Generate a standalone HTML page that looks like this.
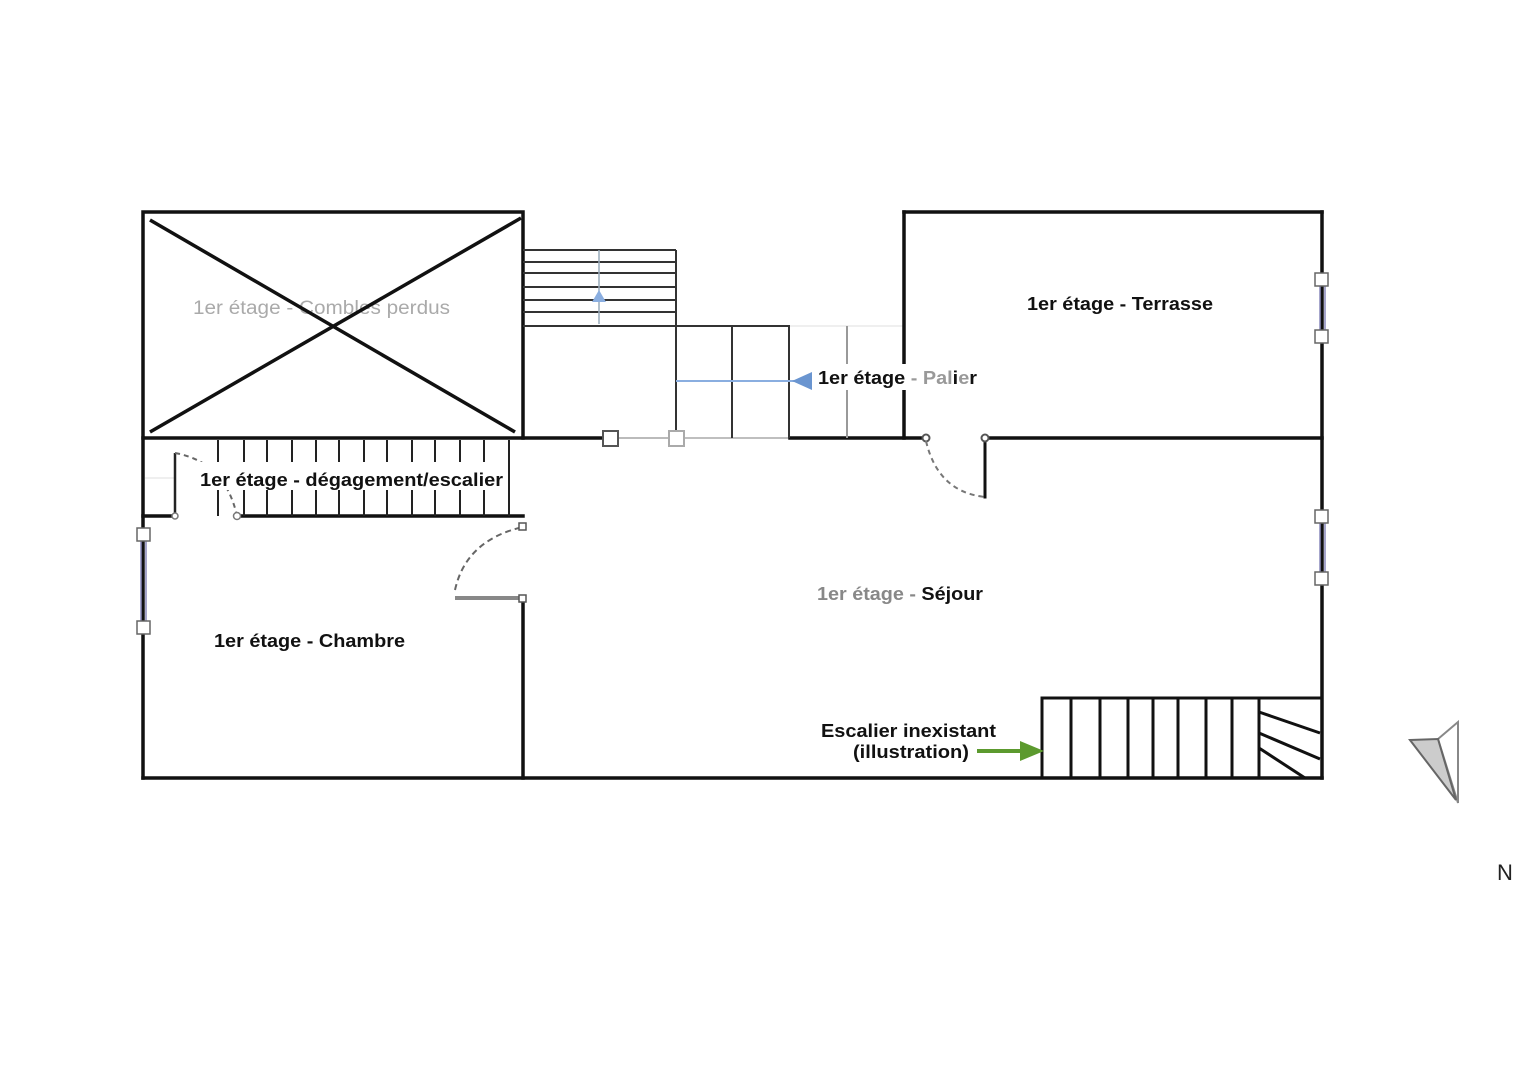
<!DOCTYPE html>
<html><head><meta charset="utf-8"><style>
html,body{margin:0;padding:0;background:#fff;}
svg{display:block}
text{font-family:"Liberation Sans",Arial,sans-serif;}
</style></head><body>
<svg width="1529" height="1080" viewBox="0 0 1529 1080" xmlns="http://www.w3.org/2000/svg">
<rect width="1529" height="1080" fill="#fff"/>
<g stroke="#eaeaea" stroke-width="1.5" fill="none">
<line x1="145" y1="478" x2="175" y2="478"/>
<line x1="676" y1="326" x2="904" y2="326"/>
<line x1="612" y1="438" x2="676" y2="438" stroke="#bbb" stroke-width="2"/>
<line x1="676" y1="438" x2="790" y2="438" stroke="#aaa"/>
</g>
<text x="193" y="314" font-size="19" fill="#aaa" textLength="257" lengthAdjust="spacingAndGlyphs">1er étage - Combles perdus</text>
<g stroke="#111" stroke-width="3.5" fill="none" stroke-linecap="square">
<rect x="143" y="212" width="380" height="226"/>
<line x1="143" y1="438" x2="143" y2="778"/>
<line x1="143" y1="778" x2="1322" y2="778"/>
<line x1="1322" y1="212" x2="1322" y2="778"/>
<line x1="904" y1="212" x2="1322" y2="212"/>
<line x1="904" y1="212" x2="904" y2="438"/>
<line x1="523" y1="438" x2="612" y2="438"/>
<line x1="790" y1="438" x2="926" y2="438"/>
<line x1="985" y1="438" x2="1322" y2="438"/>
<line x1="143" y1="516" x2="175" y2="516"/>
<line x1="237" y1="516" x2="523" y2="516"/>
<line x1="523" y1="598" x2="523" y2="778"/>
<line x1="985" y1="438" x2="985" y2="497" stroke-width="3"/>
</g>
<g stroke="#111" stroke-width="3.5">
<line x1="150" y1="220" x2="515" y2="432"/>
<line x1="150" y1="432" x2="521" y2="218"/>
</g>
<g stroke="#222" stroke-width="2">
<line x1="218" y1="440" x2="218" y2="516"/><line x1="244" y1="440" x2="244" y2="516"/>
<line x1="267" y1="440" x2="267" y2="516"/><line x1="292" y1="440" x2="292" y2="516"/>
<line x1="316" y1="440" x2="316" y2="516"/><line x1="339" y1="440" x2="339" y2="516"/>
<line x1="364" y1="440" x2="364" y2="516"/><line x1="387" y1="440" x2="387" y2="516"/>
<line x1="412" y1="440" x2="412" y2="516"/><line x1="435" y1="440" x2="435" y2="516"/>
<line x1="460" y1="440" x2="460" y2="516"/><line x1="484" y1="440" x2="484" y2="516"/>
<line x1="509" y1="440" x2="509" y2="516"/>
<line x1="175" y1="453" x2="175" y2="516" stroke-width="2.5"/>
</g>
<path d="M175 453 Q225 462 237 516" stroke="#666" stroke-width="2" stroke-dasharray="5 4" fill="none"/>
<circle cx="175" cy="516" r="3" fill="#fff" stroke="#777" stroke-width="1.5"/>
<circle cx="237" cy="516" r="3.5" fill="#fff" stroke="#777" stroke-width="1.5"/>
<g stroke="#333" stroke-width="2">
<line x1="523" y1="250" x2="676" y2="250"/><line x1="523" y1="262" x2="676" y2="262"/>
<line x1="523" y1="273" x2="676" y2="273"/><line x1="523" y1="287" x2="676" y2="287"/>
<line x1="523" y1="300" x2="676" y2="300"/><line x1="523" y1="312" x2="676" y2="312"/>
<line x1="523" y1="326" x2="790" y2="326"/>
<line x1="676" y1="250" x2="676" y2="438"/>
<line x1="732" y1="326" x2="732" y2="438"/>
<line x1="789" y1="326" x2="789" y2="438"/>
<line x1="847" y1="326" x2="847" y2="438" stroke="#999"/>
</g>
<line x1="599" y1="250" x2="599" y2="324" stroke="#9ab" stroke-width="1.5"/>
<polygon points="592,302 606,302 599,290" fill="#8aaee0"/>
<line x1="676" y1="381" x2="800" y2="381" stroke="#8aaee0" stroke-width="2"/>
<polygon points="792,381 812,372 812,390" fill="#6a95d0"/>
<rect x="603" y="431" width="15" height="15" fill="#fff" stroke="#555" stroke-width="2"/>
<rect x="669" y="431" width="15" height="15" fill="#fff" stroke="#aaa" stroke-width="2"/>
<circle cx="926" cy="438" r="3.5" fill="#fff" stroke="#555" stroke-width="2"/>
<circle cx="985" cy="438" r="3.5" fill="#fff" stroke="#555" stroke-width="2"/>
<path d="M926 441 Q938 492 985 497" stroke="#777" stroke-width="2" stroke-dasharray="5 4" fill="none"/>
<line x1="455" y1="598" x2="523" y2="598" stroke="#888" stroke-width="4"/>
<path d="M455 590 Q466 540 523 527" stroke="#666" stroke-width="2" stroke-dasharray="6 4" fill="none"/>
<rect x="519" y="523" width="7" height="7" fill="#fff" stroke="#555" stroke-width="1.5"/>
<rect x="519" y="595" width="7" height="7" fill="#fff" stroke="#555" stroke-width="1.5"/>
<g stroke="#8888bb" stroke-width="1.5" fill="none">
<line x1="141" y1="535" x2="141" y2="628"/><line x1="146" y1="535" x2="146" y2="628"/>
<line x1="1320" y1="280" x2="1320" y2="337"/><line x1="1325" y1="280" x2="1325" y2="337"/>
<line x1="1320" y1="517" x2="1320" y2="579"/><line x1="1325" y1="517" x2="1325" y2="579"/>
</g>
<g fill="#fff" stroke="#666" stroke-width="1.5">
<rect x="137" y="528" width="13" height="13"/><rect x="137" y="621" width="13" height="13"/>
<rect x="1315" y="273" width="13" height="13"/><rect x="1315" y="330" width="13" height="13"/>
<rect x="1315" y="510" width="13" height="13"/><rect x="1315" y="572" width="13" height="13"/>
</g>
<g stroke="#111" stroke-width="3" fill="none">
<polyline points="1042,778 1042,698 1322,698"/>
<line x1="1071" y1="698" x2="1071" y2="778"/><line x1="1100" y1="698" x2="1100" y2="778"/>
<line x1="1128" y1="698" x2="1128" y2="778"/><line x1="1153" y1="698" x2="1153" y2="778"/>
<line x1="1178" y1="698" x2="1178" y2="778"/><line x1="1206" y1="698" x2="1206" y2="778"/>
<line x1="1232" y1="698" x2="1232" y2="778"/><line x1="1259" y1="698" x2="1259" y2="778"/>
<line x1="1259" y1="712" x2="1320" y2="733"/><line x1="1259" y1="733" x2="1320" y2="759"/>
<line x1="1259" y1="748" x2="1305" y2="778"/>
</g>
<line x1="977" y1="751" x2="1025" y2="751" stroke="#5c9a2e" stroke-width="4"/>
<polygon points="1020,741 1044,751 1020,761" fill="#5c9a2e"/>
<polygon points="1438,739 1458,722 1458,803" fill="#fff" stroke="#888" stroke-width="2"/>
<polygon points="1410,740 1438,739 1456,800" fill="#ccc" stroke="#666" stroke-width="2"/>
<text x="1497" y="880" font-size="22" fill="#222">N</text>
<g font-size="18" font-weight="bold" fill="#111" lengthAdjust="spacingAndGlyphs">
<rect x="196" y="462" width="310" height="28" fill="#fff"/>
<text x="200" y="486" textLength="303" lengthAdjust="spacingAndGlyphs">1er étage - dégagement/escalier</text>
<text x="1027" y="310" textLength="186" lengthAdjust="spacingAndGlyphs">1er étage - Terrasse</text>
<rect x="814" y="364" width="166" height="26" fill="#fff"/>
<text x="818" y="384" textLength="159" lengthAdjust="spacingAndGlyphs">1er étage <tspan fill="#999">- Pal</tspan>i<tspan fill="#999">e</tspan>r</text>
<text x="817" y="600" textLength="166" lengthAdjust="spacingAndGlyphs"><tspan fill="#888">1er étage - </tspan>Séjour</text>
<text x="214" y="647" textLength="191" lengthAdjust="spacingAndGlyphs">1er étage - Chambre</text>
<text x="821" y="737" textLength="175" lengthAdjust="spacingAndGlyphs">Escalier inexistant</text>
<text x="853" y="758" textLength="116" lengthAdjust="spacingAndGlyphs">(illustration)</text>
</g>
</svg>
</body></html>
